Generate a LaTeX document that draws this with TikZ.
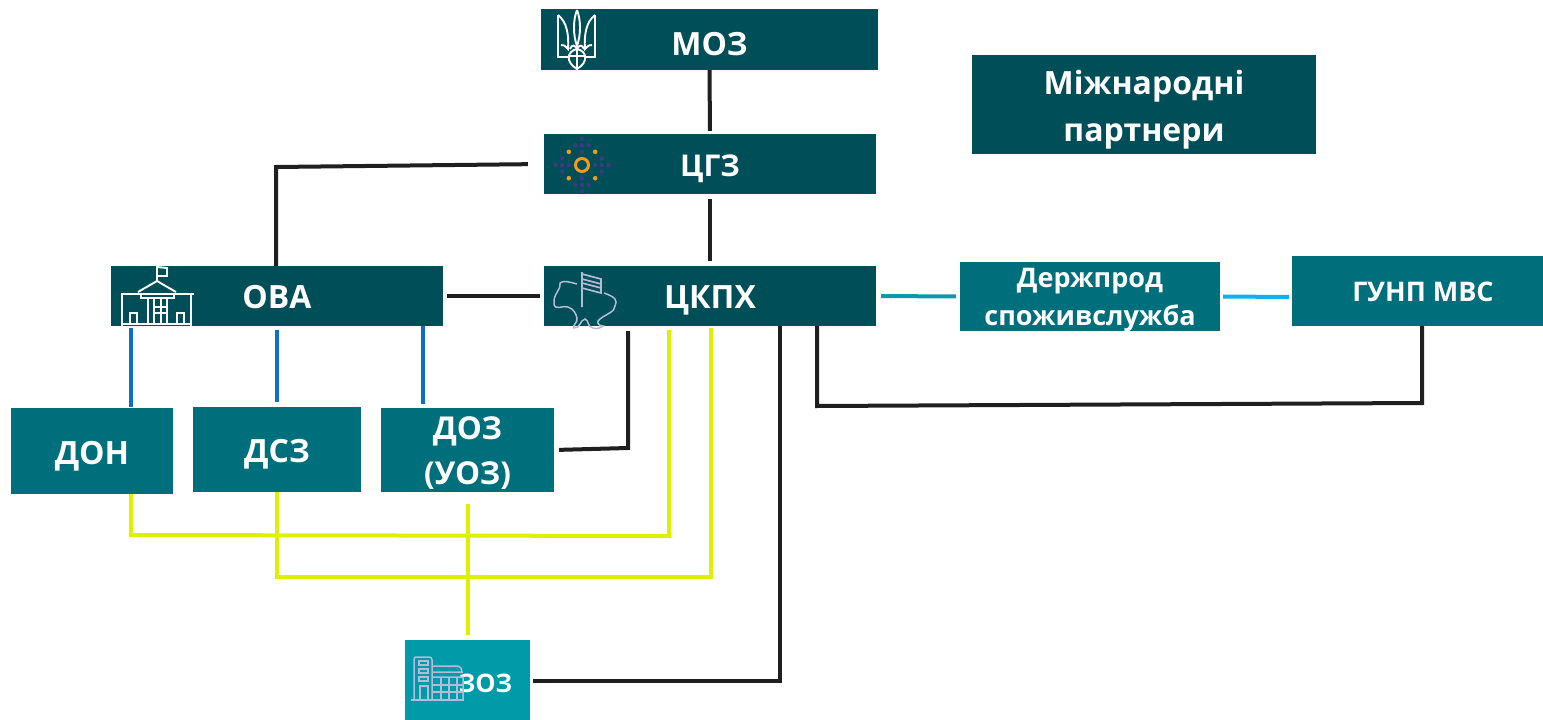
\documentclass[tikz,border=0pt]{standalone}
\usepackage{fontspec}
\setmainfont{Open Sans}
\newcommand{\dn}[2]{\raisebox{-#1pt}[\height][\depth]{#2}}
\begin{document}
\begin{tikzpicture}[x=1pt,y=-1pt,line join=miter,
 box/.style={draw=none,fill=#1,inner sep=0pt,text=white,font=\bfseries,align=center},
 big/.style={font=\fontsize{32}{38}\selectfont\bfseries},
 sml/.style={font=\fontsize{27}{35}\selectfont\bfseries},
 blk/.style={draw=black!88,line width=4pt},
 blu/.style={draw=blue1,line width=4pt},
 yel/.style={draw=yel1,line width=4pt},
 tl1/.style={draw=teal1,line width=4pt},
 cy1/.style={draw=cyan1,line width=4pt},
 ico/.style={draw=white,line width=1.9pt,fill=none},
 ic2/.style={draw=icon1,line width=1.5pt,fill=none}]
\definecolor{dark1}{HTML}{004E57}
\definecolor{teal2}{HTML}{006F7C}
\definecolor{light1}{HTML}{009AA8}
\definecolor{blue1}{HTML}{0B70C4}
\definecolor{yel1}{HTML}{DDF000}
\definecolor{teal1}{HTML}{0A9AA8}
\definecolor{cyan1}{HTML}{0FB0EE}
\definecolor{icon1}{HTML}{B4BAD8}
\definecolor{purp}{HTML}{3B3B80}
\definecolor{oran}{HTML}{F39A1E}
\useasboundingbox (0,0) rectangle (1543,720);
% boxes
\node[box=dark1,big,minimum width=337pt,minimum height=61pt] (moz) at (709.5,39.5) {\dn{4.5}{МОЗ}};
\node[box=dark1,font=\fontsize{30}{38}\selectfont\bfseries,minimum width=332pt,minimum height=60pt] (cgz) at (710,164) {\dn{5}{ЦГЗ}};
\node[box=dark1,big,minimum width=332pt,minimum height=60pt] (ova) at (277,296) {\dn{1}{ОВА}};
\node[box=dark1,big,minimum width=332pt,minimum height=60pt] (ckph) at (710,296) {\dn{4}{ЦКПХ}};
\node[box=dark1,minimum width=344pt,minimum height=99pt,font=\fontsize{32}{47}\selectfont\bfseries] (intl) at (1144,104.5) {\dn{5.5}{Міжнародні}\\\dn{5.5}{партнери}};
\node[box=teal2,font=\fontsize{27}{38}\selectfont\bfseries,minimum width=260pt,minimum height=69pt] (dpss) at (1090,296.5) {\dn{3.5}{Держпрод}\\\dn{4}{споживслужба}};
\node[box=teal2,sml,minimum width=251pt,minimum height=70pt] (gunp) at (1417.5,291) {\hspace*{11pt}\dn{1}{ГУНП МВС}};
\node[box=teal2,big,minimum width=162pt,minimum height=86pt] (don) at (92,451) {\dn{5}{ДОН}};
\node[box=teal2,big,minimum width=168pt,minimum height=85pt] (dsz) at (277,449.5) {\dn{5}{ДСЗ}};
\node[box=teal2,font=\fontsize{31.5}{45}\selectfont\bfseries,minimum width=173pt,minimum height=84pt] (doz) at (467.5,450) {\dn{3}{ДОЗ}\\\dn{3}{(УОЗ)}};
\node[box=light1,minimum width=125pt,minimum height=80pt] (zoz) at (467.5,680) {};
\node[text=white,font=\fontsize{25.5}{35}\selectfont\bfseries,inner sep=0pt] (zozt) at (485.5,683) {ЗОЗ};
% free ends
\coordinate (a1) at (276,167);
\coordinate (c1) at (817,406);
\coordinate (c2) at (1422,403);
\coordinate (d1) at (628,448);
\coordinate (y1) at (131,535);
\coordinate (y2) at (669,536);
\coordinate (y3) at (277,577);
\coordinate (y4) at (711,577);
\coordinate (z1) at (780,681);
\coordinate (b3) at (423,0);
% black connectors
\draw[blk,shorten >=3pt] (moz.south) -- (cgz.north);
\draw[blk,shorten <=5pt,shorten >=5pt] (cgz.south) -- (ckph.north);
\draw[blk,shorten <=16pt] (cgz.west) -- (a1) -- (ova.north -| a1);
\draw[blk,shorten <=4pt,shorten >=4pt] (ova.east) -- (ckph.west);
\draw[blk] (ckph.south -| c1) -- (c1) -- (c2) -- (gunp.south -| c2);
\draw[blk,shorten <=5pt,shorten >=5pt] (doz.east |- 0,450) -- (d1) -- (ckph.south -| d1);
\draw[blk,shorten <=3pt] (zoz.east |- z1) -- (z1) -- (ckph.south -| z1);
% teal connectors
\draw[tl1,shorten <=5pt,shorten >=4pt] (ckph.east) -- (dpss.west);
\draw[cy1,shorten <=3pt,shorten >=3pt] (dpss.east) -- (gunp.west |- 0,297);
% blue connectors
\draw[blu,shorten <=2pt,shorten >=1pt] (ova.south -| y1) -- (don.north -| y1);
\draw[blu,shorten <=4pt,shorten >=5pt] (ova.south) -- (dsz.north);
\draw[blu,shorten >=4pt] (ova.south -| b3) -- (doz.north -| b3);
% yellow connectors
\draw[yel,shorten >=4pt] (don.south -| y1) -- (y1) -- (y2) -- (ckph.south -| y2);
\draw[yel,shorten >=2pt] (dsz.south) -- (y3) -- (y4) -- (ckph.south -| y4);
\draw[yel,shorten <=12pt,shorten >=5pt] (doz.south) -- (zoz.north);
% trident icon
\draw[ico] (558,15) -- (558,57) -- (570,57) (595,15) -- (595,57) -- (584,57);
\draw[ico] (558,15) .. controls (567,22) and (569,35) .. (568,49) .. controls (565,46) and (563,44) .. (561,45);
\draw[ico] (595,15) .. controls (586,22) and (584,35) .. (585,49) .. controls (588,46) and (590,44) .. (592,45);
\draw[ico] (577,10) .. controls (573,20) and (573,35) .. (577,46) .. controls (581,35) and (581,20) .. (577,10);
\draw[ico] (577,69) .. controls (565,62) and (567,51) .. (577,49) .. controls (587,51) and (589,62) .. (577,69) -- (577,49);
\draw[ico] (569,56) -- (585,56);
\draw[ico] (570,49) .. controls (572,44) and (575,45) .. (577,49) .. controls (579,45) and (582,44) .. (584,49);
% sun icon
\begin{scope}[shift={(582,165)}]
\foreach \i/\j in {0/-4,0/4,-1/-3,0/-3,1/-3,-1/3,0/3,1/3,0/-2,0/2,-3/-1,3/-1,-3/1,3/1,-4/0,4/0,-3/0,3/0,-2/0,2/0}
  \fill[purp] (\i*6.6,\j*6.6) circle (2.3pt);
\foreach \i/\j in {-2/-2,2/-2,-2/2,2/2}
  \fill[oran] (\i*6.6,\j*6.6) circle (2.3pt);
\draw[oran,line width=3pt] (0,0) circle (6.5pt);
\end{scope}
% building icon
\draw[ico] (138,292) -- (157,281) -- (176,292) (157,281) -- (157,267) -- (167,268) -- (167,276) -- (157,276);
\draw[ico] (121,294) -- (194,294) (122,294) -- (122,326) (191,294) -- (191,326) (123,324) -- (190,324);
\draw[ico] (141,294) rectangle (174,298);
\draw[ico] (148,298) -- (148,325) (154,298) -- (154,325) (161,298) -- (161,325) (167,298) -- (167,325);
\draw[ico] (154,307) -- (167,307) (154,313) -- (167,313);
\draw[ico] (130,325) -- (130,313) -- (137,313) -- (137,325) (177,325) -- (177,313) -- (184,313) -- (184,325);
% map icon
\draw[ic2] (577,284) .. controls (570,282) and (563,280) .. (560,283) .. controls (561,291) and (553,293) .. (554,304) .. controls (555,311) and (563,305) .. (568,307) .. controls (574,309) and (576,314) .. (577,318) .. controls (578,323) and (572,325) .. (574,328) .. controls (580,329) and (580,320) .. (585,319) .. controls (589,320) and (587,327) .. (593,328) .. controls (598,330) and (601,327) .. (603,326) .. controls (596,325) and (597,321) .. (600,319) .. controls (606,314) and (615,312) .. (615,306) .. controls (618,300) and (615,297) .. (604,293);
\draw[ic2,line width=1.7pt] (582,307) -- (582,272) (582,274) -- (601,279) -- (601,293) -- (582,288) (582,279) -- (601,284) (582,283) -- (601,288);
% hospital icon
\draw[ic2] (414,700) -- (414,660) .. controls (414,657) and (415,657) .. (417,657) -- (429,657) .. controls (431,657) and (432,658) .. (432,660) -- (432,700);
\draw[ic2] (419,661) rectangle (428,665) (419,669) rectangle (428,673) (419,677) rectangle (428,681) (420,700) -- (420,686) -- (428,686) -- (428,700);
\draw[ic2] (432,666) -- (458,666) .. controls (461,667) and (462,669) .. (462,672) -- (432,672) (432,677) -- (463,677) -- (463,700);
\draw[ic2] (432,685) -- (463,685) (432,692) -- (463,692) (441,677) -- (441,700) (449,677) -- (449,700) (457,677) -- (457,700);
\draw[ic2] (411,700) -- (464,700);
\end{tikzpicture}
\end{document}
